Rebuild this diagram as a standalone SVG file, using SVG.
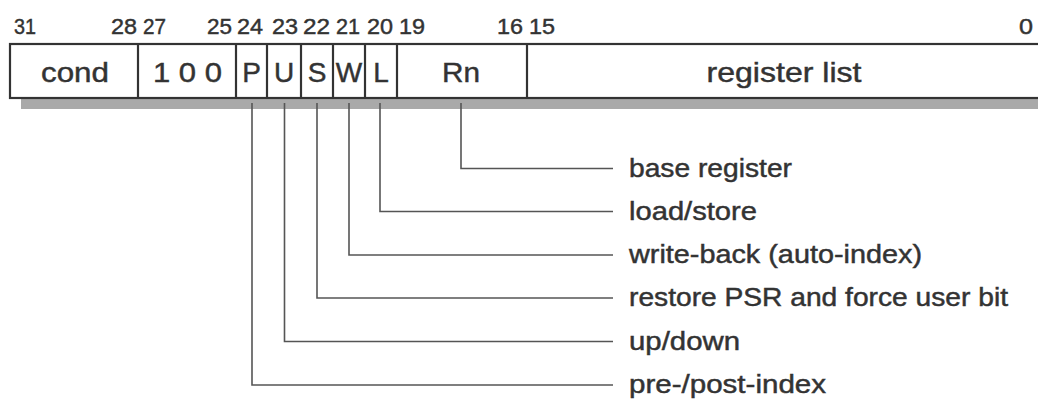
<svg xmlns="http://www.w3.org/2000/svg" width="1038" height="414" viewBox="0 0 1038 414">
  <style>
    text { font-family: "Liberation Sans", Arial, Helvetica, sans-serif; fill: #333; stroke: #333; stroke-width: 0.45; }
    .bit { font-size: 22.5px; }
    .field { font-size: 28px; text-anchor: middle; }
    .label { font-size: 25px; }
    .cell { fill: #fff; stroke: #333; stroke-width: 2.2; }
    .div { stroke: #333; stroke-width: 2.2; }
    .conn { fill: none; stroke: #555; stroke-width: 1.6; }
  </style>

  <rect width="1038" height="414" fill="#fff"/>

  <!-- drop shadow under the instruction word -->
  <rect x="21" y="99" width="1030" height="10" fill="#a9a9a9"/>

  <!-- bit position numbers -->
  <g id="bit-numbers">
    <text class="bit" x="14" y="34" textLength="22" lengthAdjust="spacingAndGlyphs">31</text>
    <text class="bit" x="111" y="34" textLength="26" lengthAdjust="spacingAndGlyphs">28</text>
    <text class="bit" x="143" y="34" textLength="23" lengthAdjust="spacingAndGlyphs">27</text>
    <text class="bit" x="207" y="34" textLength="25" lengthAdjust="spacingAndGlyphs">25</text>
    <text class="bit" x="237" y="34" textLength="26" lengthAdjust="spacingAndGlyphs">24</text>
    <text class="bit" x="272" y="34" textLength="26" lengthAdjust="spacingAndGlyphs">23</text>
    <text class="bit" x="303" y="34" textLength="27" lengthAdjust="spacingAndGlyphs">22</text>
    <text class="bit" x="336" y="34" textLength="24" lengthAdjust="spacingAndGlyphs">21</text>
    <text class="bit" x="367" y="34" textLength="26" lengthAdjust="spacingAndGlyphs">20</text>
    <text class="bit" x="399" y="34" textLength="26" lengthAdjust="spacingAndGlyphs">19</text>
    <text class="bit" x="497" y="34" textLength="26" lengthAdjust="spacingAndGlyphs">16</text>
    <text class="bit" x="529" y="34" textLength="26" lengthAdjust="spacingAndGlyphs">15</text>
    <text class="bit" x="1019" y="34" textLength="14" lengthAdjust="spacingAndGlyphs">0</text>
  </g>

  <!-- instruction word outline (runs off the right edge) -->
  <rect class="cell" x="10" y="44" width="1040" height="54"/>

  <!-- fields -->
  <g id="field-cond">
    <text class="field" x="75" y="82" textLength="68" lengthAdjust="spacingAndGlyphs">cond</text>
    <line class="div" x1="138" y1="44" x2="138" y2="98"/>
  </g>
  <g id="field-100">
    <text class="field" x="187.5" y="82" textLength="69" lengthAdjust="spacingAndGlyphs">1 0 0</text>
    <line class="div" x1="236" y1="44" x2="236" y2="98"/>
  </g>
  <g id="field-P">
    <text class="field" x="251.5" y="82">P</text>
    <line class="div" x1="267" y1="44" x2="267" y2="98"/>
  </g>
  <g id="field-U">
    <text class="field" x="284" y="82">U</text>
    <line class="div" x1="301" y1="44" x2="301" y2="98"/>
  </g>
  <g id="field-S">
    <text class="field" x="317" y="82">S</text>
    <line class="div" x1="333" y1="44" x2="333" y2="98"/>
  </g>
  <g id="field-W">
    <text class="field" x="349" y="82">W</text>
    <line class="div" x1="365" y1="44" x2="365" y2="98"/>
  </g>
  <g id="field-L">
    <text class="field" x="381" y="82">L</text>
    <line class="div" x1="397" y1="44" x2="397" y2="98"/>
  </g>
  <g id="field-Rn">
    <text class="field" x="461" y="82" textLength="38" lengthAdjust="spacingAndGlyphs">Rn</text>
    <line class="div" x1="527" y1="44" x2="527" y2="98"/>
  </g>
  <g id="field-register-list">
    <text class="field" x="784" y="82" textLength="155" lengthAdjust="spacingAndGlyphs">register list</text>
  </g>

  <!-- leader lines from fields to their descriptions -->
  <g id="connectors">
    <polyline class="conn" points="461,103 461,168.5 613,168.5"/>
    <polyline class="conn" points="380,103 380,211.5 613,211.5"/>
    <polyline class="conn" points="349,103 349,255 613,255"/>
    <polyline class="conn" points="317,103 317,298 613,298"/>
    <polyline class="conn" points="284.5,103 284.5,341.5 613,341.5"/>
    <polyline class="conn" points="252,103 252,385 613,385"/>
  </g>

  <!-- descriptions -->
  <g id="descriptions">
    <text class="label" x="629" y="176.5" textLength="163" lengthAdjust="spacingAndGlyphs">base register</text>
    <text class="label" x="629" y="219.5" textLength="128" lengthAdjust="spacingAndGlyphs">load/store</text>
    <text class="label" x="629" y="263" textLength="293" lengthAdjust="spacingAndGlyphs">write-back (auto-index)</text>
    <text class="label" x="629" y="306" textLength="379" lengthAdjust="spacingAndGlyphs">restore PSR and force user bit</text>
    <text class="label" x="629" y="349.5" textLength="111" lengthAdjust="spacingAndGlyphs">up/down</text>
    <text class="label" x="629" y="393" textLength="197" lengthAdjust="spacingAndGlyphs">pre-/post-index</text>
  </g>
</svg>
